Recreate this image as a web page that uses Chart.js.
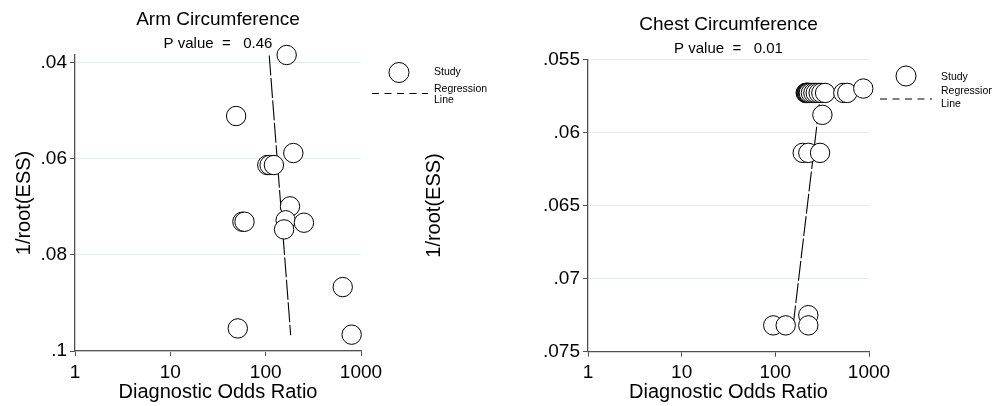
<!DOCTYPE html>
<html><head><meta charset="utf-8">
<script src="https://cdn.jsdelivr.net/npm/chart.js@4/dist/chart.umd.min.js"></script>
<style>
html,body{margin:0;padding:0;background:#fff;width:992px;height:406px;overflow:hidden;}
#c1{position:absolute;left:0;top:0;}
#c2{position:absolute;left:410px;top:0;}
</style></head><body>
<canvas id="c1" width="496" height="406" style="width:496px;height:406px"></canvas>
<canvas id="c2" width="582" height="406" style="width:582px;height:406px"></canvas>
<script>
// ---- Data ----
const armDOR        = [166, 49, 195, 104, 110, 122, 180, 162, 156, 252, 57, 60, 643, 51, 798];
const armInvRootESS = [0.0384, 0.0511, 0.0588, 0.0613, 0.0613, 0.0613, 0.0699, 0.0728, 0.0747, 0.0733, 0.0731, 0.0731, 0.0867, 0.0953, 0.0966];
const armRegDOR        = [109, 183];
const armRegInvRootESS = [0.0385, 0.0967];

const chestDOR        = [211, 214, 217, 220, 224, 228, 240, 255, 270, 290, 310, 340, 532, 586, 869, 318, 196, 225, 300, 225, 95, 129, 225];
const chestInvRootESS = [0.0573, 0.0573, 0.0573, 0.0573, 0.0573, 0.0573, 0.0573, 0.0573, 0.0573, 0.0573, 0.0573, 0.0573, 0.0573, 0.0573, 0.0570, 0.0588, 0.0614, 0.0614, 0.0614, 0.0725, 0.0732, 0.0732, 0.0732];
const chestRegDOR        = [155, 305];
const chestRegInvRootESS = [0.0732, 0.0573];

const xTicks       = [1, 10, 100, 1000];
const xTickLabels  = ['1', '10', '100', '1000'];
const armYTicks      = [0.04, 0.06, 0.08, 0.1];
const armYTickLabels = ['.04', '.06', '.08', '.1'];
const chestYTicks      = [0.055, 0.06, 0.065, 0.07, 0.075];
const chestYTickLabels = ['.055', '.06', '.065', '.07', '.075'];

const titles    = ['Arm Circumference', 'Chest Circumference'];
const subtitles = ['P value  =   0.46', 'P value  =   0.01'];
const xTitle = 'Diagnostic Odds Ratio';
const yTitle = '1/root(ESS)';
const legendLabels = ['Study', 'Regression', 'Line'];

// ---- Styling / rendering ----
const FONT = '"Liberation Sans", Arial, Helvetica, sans-serif';
const AXIS = '#505050';
const GRID = '#e3ecef';

const studyLegend = {
  id: 'studyLegend',
  afterDatasetsDraw(chart, args, o) {
    const ctx = chart.ctx;
    const R = chart.chartArea.right, T = chart.chartArea.top;
    ctx.save();
    ctx.beginPath();
    ctx.arc(R + o.cx, T + o.cy, 10, 0, Math.PI * 2);
    ctx.fillStyle = '#fff'; ctx.fill();
    ctx.lineWidth = 1; ctx.strokeStyle = '#000'; ctx.stroke();
    ctx.setLineDash([7, 5.5]);
    ctx.beginPath();
    ctx.moveTo(R + o.lx0, T + o.ly); ctx.lineTo(R + o.lx1, T + o.ly);
    ctx.stroke();
    ctx.setLineDash([]);
    ctx.fillStyle = '#000';
    ctx.font = '10.5px ' + FONT;
    ctx.textAlign = 'left'; ctx.textBaseline = 'middle';
    ctx.fillText(legendLabels[0], R + o.tx, T + o.sy);
    ctx.fillText(legendLabels[1], R + o.tx, T + o.ry);
    ctx.fillText(legendLabels[2], R + o.tx, T + o.ly2);
    ctx.restore();
  }
};

function makeChart(id, c) {
  const pts = c.x.map((v, i) => ({x: v, y: c.y[i]}));
  const reg = c.rx.map((v, i) => ({x: v, y: c.ry[i]}));
  return new Chart(document.getElementById(id), {
    type: 'scatter',
    data: {
      datasets: [
        {label: 'Study', data: pts, pointRadius: 9.7, pointHoverRadius: 9.7,
         pointBackgroundColor: '#fff', pointBorderColor: '#000', pointBorderWidth: 1, clip: false},
        {label: 'Regression Line', data: reg, showLine: true, pointRadius: 0,
         borderColor: '#000', borderWidth: 1.1, borderDash: [20, 2.5], clip: false}
      ]
    },
    plugins: [studyLegend],
    options: {
      responsive: false, animation: false, events: [],
      layout: {padding: {left: 0, right: c.padRight, top: 0, bottom: 0}},
      plugins: {
        legend: {display: false}, tooltip: {enabled: false},
        title: {display: true, text: c.title, fullSize: false, color: '#000',
                font: {family: FONT, size: 19, weight: 'normal'}, padding: {top: c.tTop, bottom: 0}},
        subtitle: {display: true, text: c.subtitle, fullSize: false, color: '#000',
                font: {family: FONT, size: 15, weight: 'normal'}, padding: {top: c.sTop, bottom: c.sBot}},
        studyLegend: c.legend
      },
      scales: {
        x: {
          type: 'logarithmic', position: 'bottom', min: 1, max: 1000,
          afterBuildTicks: s => { s.ticks = xTicks.map(v => ({value: v})); },
          afterFit: s => { s.height = c.xHeight; },
          border: {display: true, color: AXIS, width: 1.3},
          grid: {drawOnChartArea: false, drawTicks: true, tickLength: 5, tickColor: AXIS},
          ticks: {autoSkip: false, maxRotation: 0, color: '#000', padding: 5,
                  font: {family: FONT, size: 19},
                  callback: v => { const i = xTicks.indexOf(v); return i >= 0 ? xTickLabels[i] : ''; }},
          title: {display: true, text: xTitle, color: '#000', font: {family: FONT, size: 20},
                  padding: {top: 0, bottom: 2}}
        },
        y: {
          type: 'linear', position: 'left', reverse: true, min: c.ymin, max: c.ymax,
          afterBuildTicks: s => { s.ticks = c.yTicks.map(v => ({value: v})); },
          afterFit: s => { s.width = c.yWidth; },
          border: {display: true, color: AXIS, width: 1.3},
          grid: {color: GRID, lineWidth: 1, drawTicks: true, tickLength: 5, tickColor: AXIS},
          ticks: {color: '#000', padding: 3, font: {family: FONT, size: 19},
                  callback: (v) => { const i = c.yTicks.findIndex(t => Math.abs(t - v) < 1e-9); return i >= 0 ? c.yLabels[i] : ''; }},
          title: {display: true, text: yTitle, color: '#000', font: {family: FONT, size: 20},
                  padding: {top: 12, bottom: 0}}
        }
      }
    }
  });
}

makeChart('c1', {
  x: armDOR, y: armInvRootESS, rx: armRegDOR, ry: armRegInvRootESS,
  title: titles[0], subtitle: subtitles[0],
  ymin: 0.0384, ymax: 0.1, yTicks: armYTicks, yLabels: armYTickLabels,
  yWidth: 75, xHeight: 55, padRight: 135,
  tTop: 8.6, sTop: 3.1, sBot: 2.5,
  legend: {cx: 38, cy: 17.5, lx0: 11, lx1: 67, ly: 38.5, tx: 73, sy: 17.5, ry: 34.3, ly2: 45.5}
});
makeChart('c2', {
  x: chestDOR, y: chestInvRootESS, rx: chestRegDOR, ry: chestRegInvRootESS,
  title: titles[1], subtitle: subtitles[1],
  ymin: 0.055, ymax: 0.075, yTicks: chestYTicks, yLabels: chestYTickLabels,
  yWidth: 178, xHeight: 54.3, padRight: 123,
  tTop: 13.1, sTop: 3.6, sBot: 1.8,
  legend: {cx: 37, cy: 16.7, lx0: 11, lx1: 63, ly: 39.7, tx: 72, sy: 17.4, ry: 31.7, ly2: 44.7}
});
</script>
</body></html>
